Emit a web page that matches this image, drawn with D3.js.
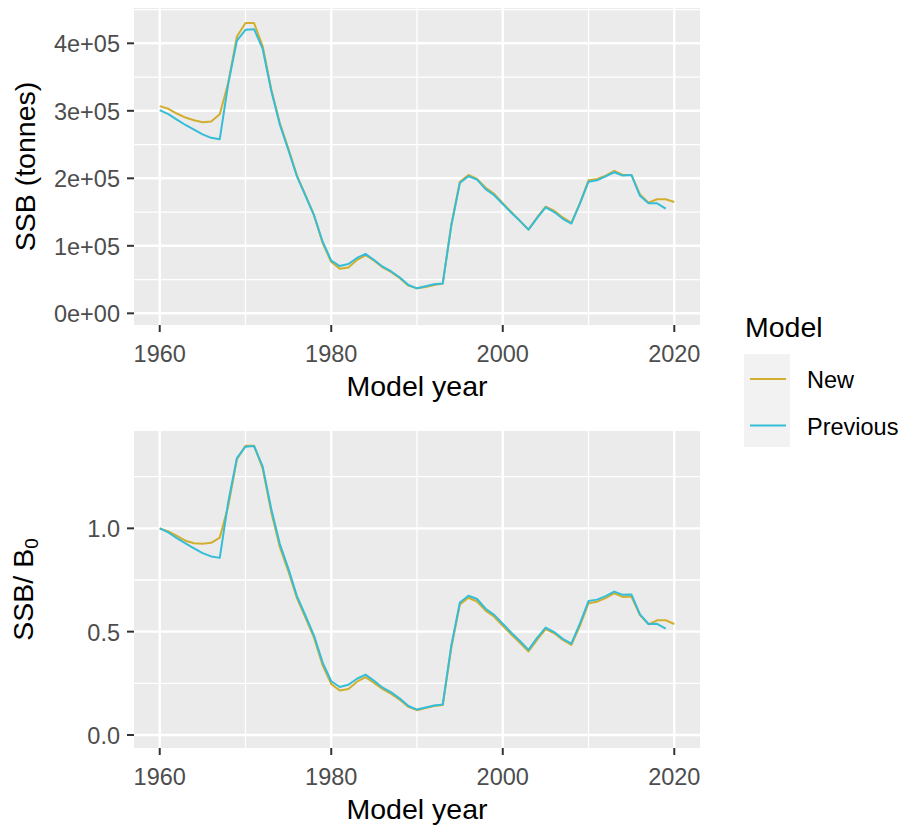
<!DOCTYPE html>
<html>
<head>
<meta charset="utf-8">
<script src="https://cdn.jsdelivr.net/npm/d3@7"></script>
<style>
  body { margin: 0; background: #fff; }
  svg { display: block; font-family: 'Liberation Sans', Arial, sans-serif; }
</style>
</head>
<body>
<svg id="chart" width="906" height="829"></svg>
<script>
// model years
const years = d3.range(1960, 2021)
const prevYears = d3.range(1960, 2020)

// SSB (tonnes)
const ssbNew = [
  307000, 303000, 296000, 290000, 286000, 283000, 284000, 295000, 342000, 410000,
  430000, 430000, 396000, 332000, 282000, 244000, 204000, 175000, 145000, 104000,
  76000, 66000, 68000, 79000, 86000, 78000, 68000, 61000, 52000, 41000,
  37000, 39000, 42000, 44000, 131000, 195000, 205000, 199000, 186000, 177000,
  163000, 150000, 137000, 124000, 142000, 158000, 152000, 142000, 134000, 163000,
  197000, 199000, 204000, 211000, 205000, 205000, 176000, 164000, 169000, 169000,
  165000
]
const ssbPrev = [
  301000, 295000, 287000, 279000, 272000, 265000, 260000, 258000, 341000, 404000,
  420000, 421000, 392000, 330000, 280000, 242000, 203000, 174000, 145000, 106000,
  78000, 70000, 73000, 82000, 88000, 79000, 69000, 62000, 53000, 42000,
  37000, 40000, 43000, 44000, 130000, 193000, 203000, 198000, 184000, 175000,
  162000, 149000, 137000, 124000, 141000, 157000, 150000, 140000, 133000, 163000,
  195000, 197000, 203000, 209000, 204000, 205000, 174000, 163000, 163000, 155000
]

// SSB / B0
const ratioNew = [
  1.000, 0.985, 0.963, 0.940, 0.928, 0.925, 0.930, 0.955, 1.110, 1.335,
  1.400, 1.400, 1.290, 1.080, 0.910, 0.792, 0.662, 0.567, 0.470, 0.337,
  0.246, 0.215, 0.222, 0.258, 0.280, 0.252, 0.222, 0.199, 0.170, 0.136,
  0.120, 0.130, 0.140, 0.145, 0.423, 0.632, 0.664, 0.646, 0.602, 0.572,
  0.528, 0.486, 0.446, 0.404, 0.460, 0.512, 0.492, 0.460, 0.436, 0.528,
  0.638, 0.645, 0.662, 0.686, 0.668, 0.670, 0.580, 0.535, 0.555, 0.555,
  0.537
]
const ratioPrev = [
  1.000, 0.980, 0.953, 0.927, 0.903, 0.880, 0.864, 0.857, 1.130, 1.340,
  1.395, 1.398, 1.300, 1.095, 0.925, 0.805, 0.672, 0.577, 0.480, 0.350,
  0.260, 0.232, 0.243, 0.272, 0.292, 0.262, 0.229, 0.206, 0.176, 0.140,
  0.123, 0.133, 0.143, 0.147, 0.432, 0.641, 0.674, 0.658, 0.611, 0.581,
  0.538, 0.495, 0.455, 0.412, 0.470, 0.520, 0.498, 0.465, 0.442, 0.540,
  0.648, 0.655, 0.672, 0.694, 0.678, 0.680, 0.584, 0.537, 0.538, 0.515
]

const xTicks = [1960, 1980, 2000, 2020]
const xMinor = [1970, 1990, 2010]
const ssbTicks = [0, 100000, 200000, 300000, 400000]
const ssbTickLabels = ['0e+00', '1e+05', '2e+05', '3e+05', '4e+05']
const ssbMinor = [50000, 150000, 250000, 350000, 450000]
const ratioTicks = [0, 0.5, 1.0]
const ratioTickLabels = ['0.0', '0.5', '1.0']
const ratioMinor = [0.25, 0.75, 1.25]

const models = ['New', 'Previous']
const colours = { New: '#D1AE2D', Previous: '#35BDD7' }

const svg = d3.select('#chart')

const left = 134
const right = 700

const x = d3.scaleLinear()
  .domain([1957, 2023])
  .range([left, right])

function drawPanel ({ top, bottom, y, minorY, ticks, tickLabels, series }) {
  const g = svg.append('g')

  g.append('rect')
    .attr('x', left)
    .attr('y', top)
    .attr('width', right - left)
    .attr('height', bottom - top)
    .attr('fill', '#EBEBEB')

  // minor grid
  g.selectAll('.minor-y')
    .data(minorY.filter(v => y(v) >= top && y(v) <= bottom))
    .enter().append('line')
    .attr('x1', left).attr('x2', right)
    .attr('y1', d => y(d)).attr('y2', d => y(d))
    .attr('stroke', '#fff').attr('stroke-width', 1.3)
  g.selectAll('.minor-x')
    .data(xMinor)
    .enter().append('line')
    .attr('x1', d => x(d)).attr('x2', d => x(d))
    .attr('y1', top).attr('y2', bottom)
    .attr('stroke', '#fff').attr('stroke-width', 1.3)

  // major grid
  g.selectAll('.major-y')
    .data(ticks)
    .enter().append('line')
    .attr('x1', left).attr('x2', right)
    .attr('y1', d => y(d)).attr('y2', d => y(d))
    .attr('stroke', '#fff').attr('stroke-width', 2.4)
  g.selectAll('.major-x')
    .data(xTicks)
    .enter().append('line')
    .attr('x1', d => x(d)).attr('x2', d => x(d))
    .attr('y1', top).attr('y2', bottom)
    .attr('stroke', '#fff').attr('stroke-width', 2.4)

  // lines
  const line = d3.line()
    .x(d => x(d.year))
    .y(d => y(d.value))

  series.forEach(s => {
    g.append('path')
      .datum(s.values)
      .attr('d', line)
      .attr('fill', 'none')
      .attr('stroke', colours[s.model])
      .attr('stroke-width', 2)
      .attr('stroke-linejoin', 'round')
  })

  // y axis
  g.selectAll('.tick-y')
    .data(ticks)
    .enter().append('line')
    .attr('x1', left - 7).attr('x2', left)
    .attr('y1', d => y(d)).attr('y2', d => y(d))
    .attr('stroke', '#333').attr('stroke-width', 2)
  g.selectAll('.label-y')
    .data(ticks)
    .enter().append('text')
    .text((d, i) => tickLabels[i])
    .attr('x', left - 14)
    .attr('y', d => y(d) + 9)
    .attr('text-anchor', 'end')
    .attr('font-size', 23.5)
    .attr('fill', '#4D4D4D')

  // x axis
  g.selectAll('.tick-x')
    .data(xTicks)
    .enter().append('line')
    .attr('x1', d => x(d)).attr('x2', d => x(d))
    .attr('y1', bottom).attr('y2', bottom + 7)
    .attr('stroke', '#333').attr('stroke-width', 2)
  g.selectAll('.label-x')
    .data(xTicks)
    .enter().append('text')
    .text(d => d)
    .attr('x', d => x(d))
    .attr('y', bottom + 37)
    .attr('text-anchor', 'middle')
    .attr('font-size', 23.5)
    .attr('fill', '#4D4D4D')

  g.append('text')
    .text('Model year')
    .attr('x', (left + right) / 2)
    .attr('y', bottom + 71)
    .attr('text-anchor', 'middle')
    .attr('font-size', 28.5)
    .attr('fill', '#000')

  return g
}

// top panel: SSB
const yTop = d3.scaleLinear()
  .domain([-17300, 452300])
  .range([325, 8])

drawPanel({
  top: 8,
  bottom: 325,
  y: yTop,
  minorY: ssbMinor,
  ticks: ssbTicks,
  tickLabels: ssbTickLabels,
  series: [
    { model: 'New', values: years.map((yr, i) => ({ year: yr, value: ssbNew[i] })) },
    { model: 'Previous', values: prevYears.map((yr, i) => ({ year: yr, value: ssbPrev[i] })) }
  ]
})

svg.append('text')
  .text('SSB (tonnes)')
  .attr('transform', 'translate(35,166.5) rotate(-90)')
  .attr('text-anchor', 'middle')
  .attr('font-size', 28.5)

// bottom panel: SSB/B0
const yBottom = d3.scaleLinear()
  .domain([-0.063, 1.471])
  .range([748, 431])

drawPanel({
  top: 431,
  bottom: 748,
  y: yBottom,
  minorY: ratioMinor,
  ticks: ratioTicks,
  tickLabels: ratioTickLabels,
  series: [
    { model: 'New', values: years.map((yr, i) => ({ year: yr, value: ratioNew[i] })) },
    { model: 'Previous', values: prevYears.map((yr, i) => ({ year: yr, value: ratioPrev[i] })) }
  ]
})

const ratioTitle = svg.append('text')
  .attr('transform', 'translate(33,589.5) rotate(-90)')
  .attr('text-anchor', 'middle')
  .attr('font-size', 28.5)
ratioTitle.append('tspan').text('SSB/ B')
ratioTitle.append('tspan').text('0')
  .attr('font-size', 19)
  .attr('dy', 5)

// legend
const legend = svg.append('g')
legend.append('text')
  .text('Model')
  .attr('x', 745)
  .attr('y', 337)
  .attr('font-size', 28.5)
legend.append('rect')
  .attr('x', 744)
  .attr('y', 354)
  .attr('width', 46)
  .attr('height', 93)
  .attr('fill', '#F2F2F2')

const keys = legend.selectAll('.key')
  .data(models)
  .enter().append('g')
  .attr('transform', (d, i) => 'translate(0,' + (379 + i * 46.5) + ')')
keys.append('line')
  .attr('x1', 750).attr('x2', 786)
  .attr('stroke', d => colours[d])
  .attr('stroke-width', 2)
keys.append('text')
  .text(d => d)
  .attr('x', 807)
  .attr('y', 9)
  .attr('font-size', 23.5)
  .attr('fill', '#000')
</script>
</body>
</html>
